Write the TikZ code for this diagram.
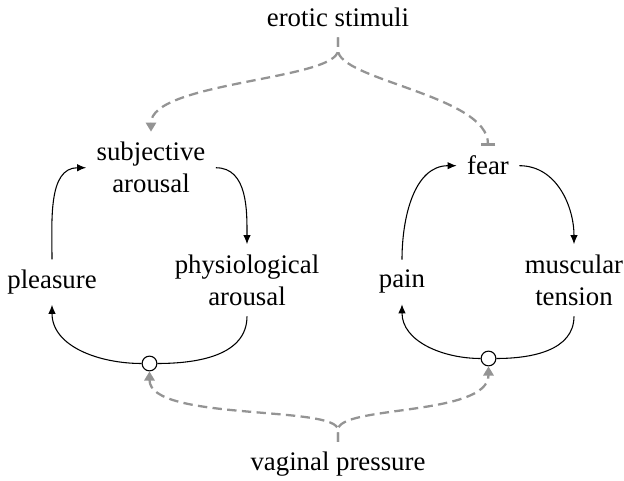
\documentclass[tikz,border=0pt]{standalone}
\usepackage{fontspec}
\setmainfont{Liberation Serif}
\usetikzlibrary{arrows.meta}
\begin{document}
\begin{tikzpicture}[x=0.37313pt,y=-0.37313pt,
  lbl/.style={inner sep=3.73pt, align=center},
  blk/.style={-{Latex[length=3.4pt,width=2.8pt]}, line width=0.4pt},
  gd/.style={color=black!42, line width=0.85pt, dash pattern=on 3.5pt off 2pt},
  gtip/.style={-{Triangle[length=3.4pt,width=3.8pt]}},
  gbar/.style={-{Bar[width=5.5pt]}},
  junc/.style={circle, draw, fill=white, minimum size=5.5pt, inner sep=0pt, line width=0.4pt}]
\useasboundingbox (0,0) rectangle (624,481);
% text nodes
\node[lbl, anchor=base]  (es)   at (338,26.7)  {erotic stimuli};
\node[lbl, anchor=north] (subj) at (151,131.7) {subjective\\arousal};
\node[lbl, anchor=north] (phys) at (247,244.2) {physiological\\arousal};
\node[lbl, anchor=base]  (plea) at (52,288.5)  {pleasure};
\node[lbl, anchor=base]  (fear) at (488,175)   {fear};
\node[lbl, anchor=base]  (pain) at (402,288)   {pain};
\node[lbl, anchor=north] (musc) at (574,244.2) {muscular\\tension};
\node[lbl, anchor=base]  (vp)   at (338,471)   {vaginal pressure};
% junction circles
\node[junc] (cl) at (149.5,363.5) {};
\node[junc] (cr) at (488.5,358.5) {};
\coordinate (ej) at (338,50);
\coordinate (vj) at (338,430);
% left loop
\draw[blk] (plea.north) to[out=90,in=180] (subj.west);
\draw[blk] (subj.east) to[out=0,in=90] (phys.north);
\draw (phys.south) to[out=-90,in=0] (cl.east);
\draw[blk] (cl.west) to[out=180,in=-90] (plea.south);
% right loop
\draw[blk] (pain.north) to[out=90,in=180] (fear.west);
\draw[blk] (fear.east) to[out=0,in=90] (musc.north);
\draw (musc.south) to[out=-90,in=0] (cr.east);
\draw[blk] (cr.west) to[out=180,in=-90] (pain.south);
% gray dashed influences
\draw[gd,gtip] (es.south) -- (ej) to[out=-90,in=90,out distance=11.2pt,in distance=18.7pt] (subj.north);
\draw[gd,gbar] (es.south) -- (ej) to[out=-90,in=90,out distance=11.2pt,in distance=18.7pt] (fear.north);
\draw[gd,gtip] (vp.north) -- (vj) to[out=90,in=-90,out distance=9.3pt,in distance=18.7pt] (cl.south);
\draw[gd,gtip] (vp.north) -- (vj) to[out=90,in=-90,out distance=9.3pt,in distance=18.7pt] (cr.south);
\end{tikzpicture}
\end{document}
